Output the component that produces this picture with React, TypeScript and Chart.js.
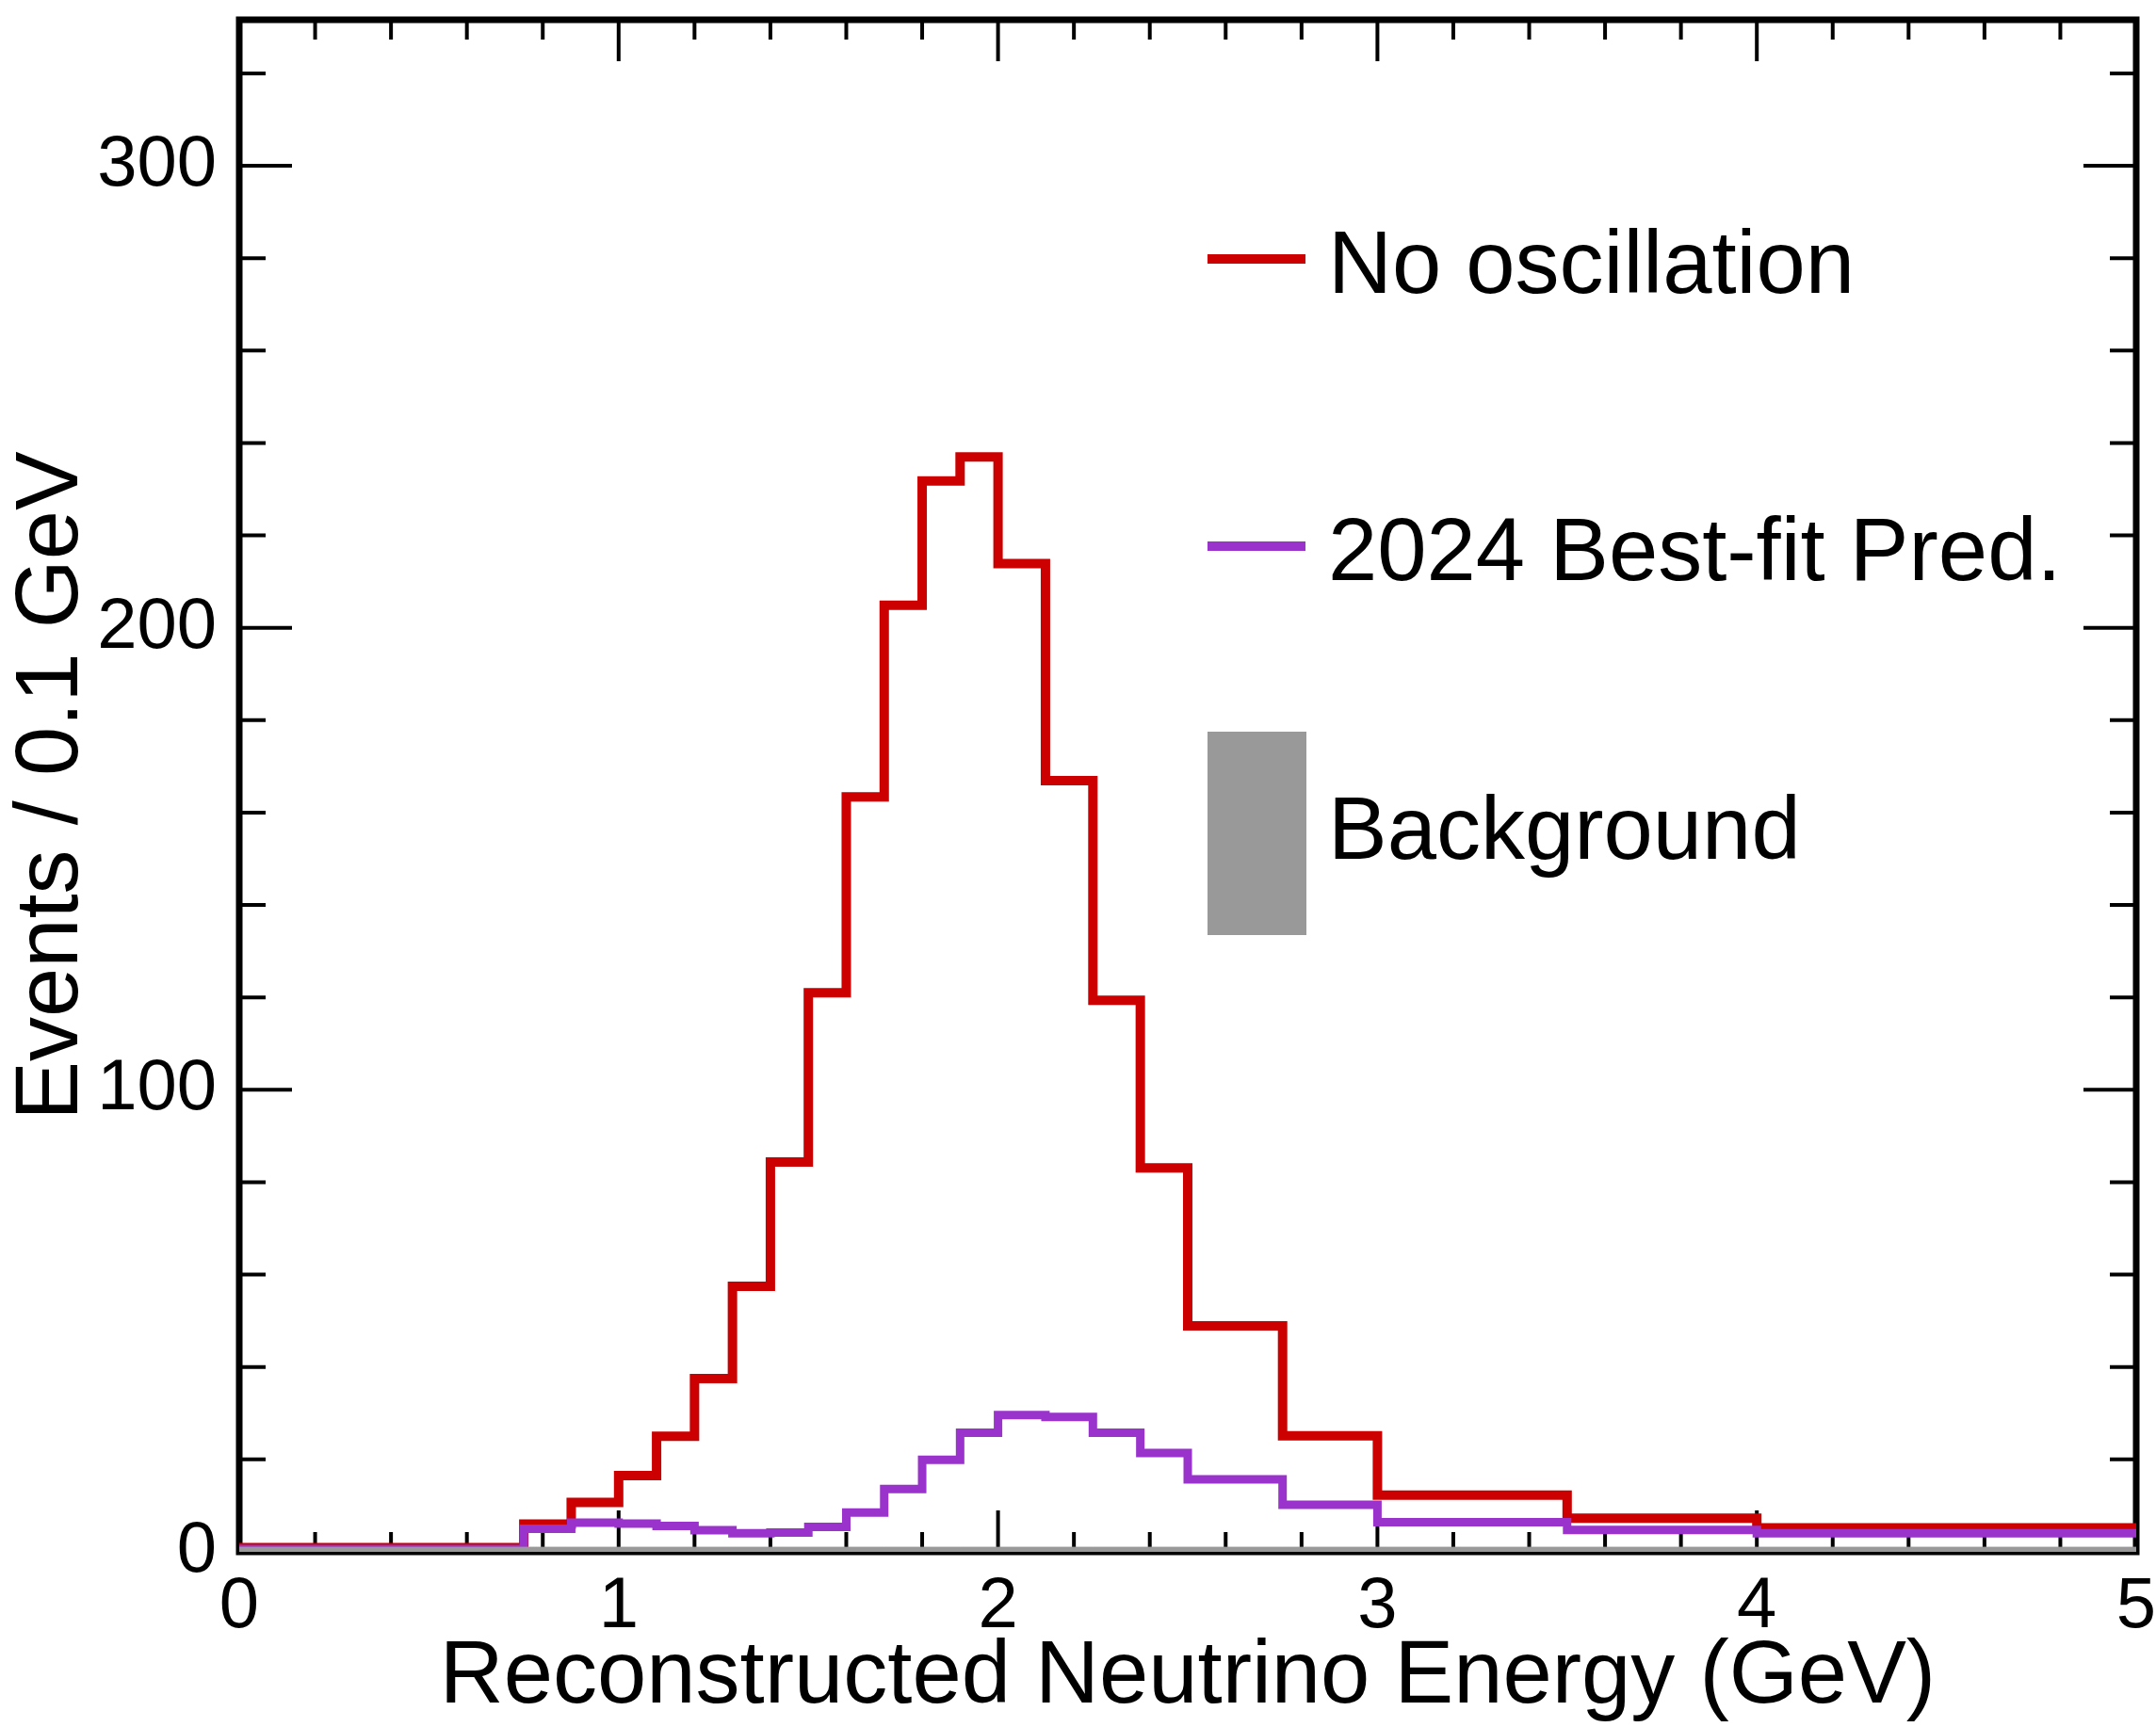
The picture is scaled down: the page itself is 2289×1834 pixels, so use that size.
import React, { useEffect, useRef } from "react";
import { Chart, registerables } from "chart.js";

Chart.register(...registerables);

// ---- Data ----
const binEdges = [0, 0.75, 0.875, 1.0, 1.1, 1.2, 1.3, 1.4, 1.5, 1.6, 1.7, 1.8, 1.9, 2.0, 2.125, 2.25, 2.375, 2.5, 2.75, 3.0, 3.5, 4.0, 5.0];
const noOscillation = [0.9, 6.0, 10.7, 16.5, 25.0, 37.5, 57.5, 84.4, 121.0, 163.4, 204.9, 231.8, 237.0, 213.9, 166.9, 119.4, 83.1, 48.9, 25.1, 12.3, 7.3, 5.2];
const bestFit2024 = [0.6, 5.0, 6.3, 6.1, 5.6, 4.7, 4.0, 4.2, 5.4, 8.5, 13.6, 19.9, 25.8, 29.6, 29.2, 25.8, 21.4, 15.7, 10.2, 6.4, 4.75, 4.0];
const backgroundEvents = [1.0, 1.0, 1.0, 1.0, 1.0, 1.0, 1.0, 1.0, 1.0, 1.0, 1.0, 1.0, 1.0, 1.0, 1.0, 1.0, 1.0, 1.0, 1.0, 1.0, 1.0, 1.0];
const seriesLabels = ["No oscillation", "2024 Best-fit Pred.", "Background"];
const xTickValues = [0, 1, 2, 3, 4, 5];
const yTickValues = [0, 100, 200, 300];
const xTitle = "Reconstructed Neutrino Energy (GeV)";
const yTitle = "Events / 0.1 GeV";

const RED = "#CC0000";
const PURPLE = "#9933CC";
const GRAY = "#999999";
const FONT = '"Liberation Sans", Arial, Helvetica, sans-serif';

function toSteps(values: number[]) {
  const pts = values.map((v, i) => ({ x: binEdges[i], y: v }));
  pts.push({ x: binEdges[binEdges.length - 1], y: values[values.length - 1] });
  return pts;
}

function zeroPadding(s: any) {
  s.paddingTop = 0;
  s.paddingBottom = 0;
  s.paddingLeft = 0;
  s.paddingRight = 0;
}

const frameTicksPlugin = {
  id: "frameTicks",
  beforeDatasetsDraw(chart: any) {
    const { ctx, chartArea: a, scales } = chart;
    const xs = scales.x;
    const ys = scales.y;
    ctx.save();
    ctx.strokeStyle = "#000";
    ctx.lineCap = "butt";
    ctx.lineWidth = 4;
    ctx.beginPath();
    for (let i = 0; i <= 25; i++) {
      const v = i * 0.2;
      const px = xs.getPixelForValue(v);
      const len = i % 5 === 0 ? 44 : 21;
      ctx.moveTo(px, a.bottom);
      ctx.lineTo(px, a.bottom - len);
      ctx.moveTo(px, a.top);
      ctx.lineTo(px, a.top + len);
    }
    for (let j = 0; j <= 16; j++) {
      const v = j * 20;
      const py = ys.getPixelForValue(v);
      const len = v % 100 === 0 ? 56 : 28;
      ctx.moveTo(a.left, py);
      ctx.lineTo(a.left + len, py);
      ctx.moveTo(a.right, py);
      ctx.lineTo(a.right - len, py);
    }
    ctx.stroke();
    ctx.lineWidth = 7;
    ctx.lineJoin = "miter";
    ctx.strokeRect(a.left, a.top, a.right - a.left, a.bottom - a.top);
    ctx.restore();
  },
};

const legendPlugin = {
  id: "rootLegend",
  afterDraw(chart: any) {
    const { ctx, chartArea: a } = chart;
    const x0 = a.left + 1028;
    const symW = 104;
    const textX = a.left + 1156;
    ctx.save();
    ctx.font = `94px ${FONT}`;
    ctx.textBaseline = "alphabetic";
    ctx.textAlign = "left";
    ctx.fillStyle = RED;
    ctx.fillRect(x0, a.top + 249, symW, 10);
    ctx.fillStyle = "#000";
    ctx.fillText(seriesLabels[0], textX, a.top + 290);
    ctx.fillStyle = PURPLE;
    ctx.fillRect(x0, a.top + 554, symW, 10);
    ctx.fillStyle = "#000";
    ctx.fillText(seriesLabels[1], textX, a.top + 595);
    ctx.fillStyle = GRAY;
    ctx.fillRect(x0, a.top + 756, symW + 1, 216);
    ctx.fillStyle = "#000";
    ctx.fillText(seriesLabels[2], textX, a.top + 891);
    ctx.restore();
  },
};

export default function App() {
  const ref = useRef<HTMLCanvasElement>(null);
  useEffect(() => {
    if (!ref.current) return;
    Chart.defaults.font.family = FONT;
    Chart.defaults.color = "#000";
    const chart = new Chart(ref.current, {
      type: "line",
      data: {
        datasets: [
          {
            label: seriesLabels[2],
            data: toSteps(backgroundEvents),
            stepped: "before",
            borderColor: GRAY,
            borderWidth: 1,
            backgroundColor: GRAY,
            fill: "origin",
            pointRadius: 0,
            order: 0,
          },
          {
            label: seriesLabels[1],
            data: toSteps(bestFit2024),
            stepped: "before",
            borderColor: PURPLE,
            borderWidth: 9,
            borderJoinStyle: "miter",
            borderCapStyle: "butt",
            fill: false,
            pointRadius: 0,
            order: 1,
          },
          {
            label: seriesLabels[0],
            data: toSteps(noOscillation),
            stepped: "before",
            borderColor: RED,
            borderWidth: 10,
            borderJoinStyle: "miter",
            borderCapStyle: "butt",
            fill: false,
            pointRadius: 0,
            order: 2,
          },
        ] as any,
      },
      options: {
        responsive: false,
        animation: false,
        devicePixelRatio: 1,
        layout: { padding: { left: 0, top: 21, right: 21, bottom: 0 } },
        plugins: {
          legend: { display: false },
          tooltip: { enabled: false },
        },
        scales: {
          x: {
            type: "linear",
            min: 0,
            max: 5,
            grid: { display: false, drawTicks: false },
            border: { display: false },
            afterBuildTicks: (s: any) => {
              s.ticks = xTickValues.map((v) => ({ value: v }));
            },
            ticks: {
              padding: 21,
              font: { size: 76, lineHeight: 1 },
              color: "#000",
              maxRotation: 0,
              autoSkip: false,
              callback: (v: any) => String(v),
            },
            title: {
              display: true,
              text: xTitle,
              font: { size: 94, lineHeight: 1 },
              color: "#000",
              padding: { top: 0, bottom: 5 },
            },
            afterFit: (s: any) => {
              s.height = 186;
              zeroPadding(s);
            },
          },
          y: {
            type: "linear",
            min: 0,
            max: 331.6,
            grid: { display: false, drawTicks: false },
            border: { display: false },
            afterBuildTicks: (s: any) => {
              s.ticks = yTickValues.map((v) => ({ value: v }));
            },
            ticks: {
              padding: 24,
              font: { size: 76, lineHeight: 1 },
              color: "#000",
              autoSkip: false,
              callback: (v: any) => String(v),
            },
            title: {
              display: true,
              text: yTitle,
              font: { size: 94, lineHeight: 1 },
              color: "#000",
              padding: { top: 9, bottom: 0 },
            },
            afterFit: (s: any) => {
              s.width = 254;
              zeroPadding(s);
            },
          },
        },
      } as any,
      plugins: [frameTicksPlugin, legendPlugin],
    });
    return () => chart.destroy();
  }, []);

  return (
    <div style={{ position: "fixed", left: 0, top: 0, width: 2289, height: 1834, background: "#fff" }}>
      <canvas ref={ref} width={2289} height={1834} style={{ display: "block", width: 2289, height: 1834 }} />
    </div>
  );
}
